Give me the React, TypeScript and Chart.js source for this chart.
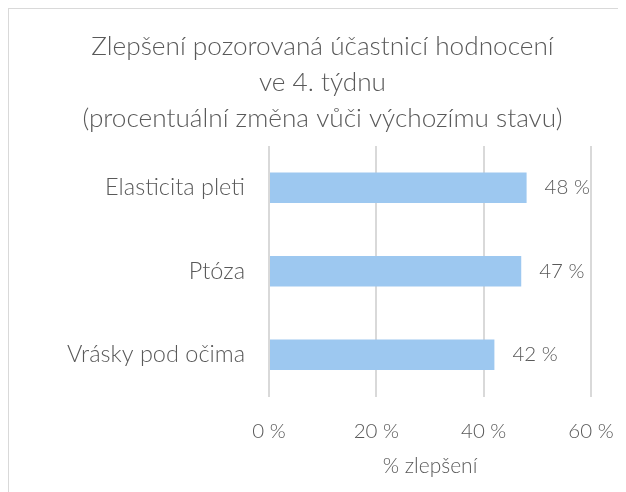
import React, { useEffect, useRef } from "react";
import { Chart, registerables } from "chart.js";

Chart.register(...registerables);

const titleLines = [
  "Zlepšení pozorovaná účastnicí hodnocení",
  "ve 4. týdnu",
  "(procentuální změna vůči výchozímu stavu)",
];
const categories = ["Elasticita pleti", "Ptóza", "Vrásky pod očima"];
const values = [48, 47, 42];
const xTicksMin = 0;
const xTicksMax = 60;
const xTicksStep = 20;
const xAxisTitle = "% zlepšení";

const FONT = "Lato, 'Open Sans', sans-serif";
const TEXT = "#595959";

const valueLabels = {
  id: "valueLabels",
  afterDatasetsDraw(chart: any) {
    const ctx = chart.ctx;
    const meta = chart.getDatasetMeta(0);
    ctx.save();
    ctx.font = `300 20.5px ${FONT}`;
    ctx.fillStyle = TEXT;
    ctx.textAlign = "left";
    ctx.textBaseline = "middle";
    meta.data.forEach((bar: any, i: number) => {
      const v = chart.data.datasets[0].data[i];
      ctx.fillText(`${v} %`, bar.x + 18, bar.y);
    });
    ctx.restore();
  },
};

export default function App() {
  const ref = useRef<HTMLCanvasElement | null>(null);
  useEffect(() => {
    if (!ref.current) return;
    const chart = new Chart(ref.current, {
      type: "bar",
      data: {
        labels: categories,
        datasets: [
          {
            data: values,
            backgroundColor: "#9dc8f0",
            borderWidth: 0,
            barPercentage: 0.364,
            categoryPercentage: 1,
          },
        ],
      },
      options: {
        indexAxis: "y",
        animation: false,
        responsive: true,
        maintainAspectRatio: false,
        layout: { padding: { left: 10, right: 0, top: 0, bottom: 0 } },
        plugins: {
          legend: { display: false },
          tooltip: { enabled: false },
          title: {
            display: true,
            text: titleLines,
            color: TEXT,
            font: { family: FONT, size: 26.2, weight: "300", lineHeight: 1.374 },
            padding: { top: 20, bottom: 9 },
          },
        },
        scales: {
          x: {
            min: xTicksMin,
            max: xTicksMax,
            ticks: {
              stepSize: xTicksStep,
              color: TEXT,
              font: { family: FONT, size: 20.5, weight: "300" },
              padding: 23,
              maxRotation: 0,
              callback: (v: any) => `${v} %`,
            },
            grid: { color: "#d9d9d9", lineWidth: 2, drawTicks: false },
            border: { display: false },
            title: {
              display: true,
              text: xAxisTitle,
              color: TEXT,
              font: { family: FONT, size: 21, weight: "300" },
              padding: { top: 10, bottom: 13 },
            },
            afterFit: (scale: any) => {
              scale.height = 95.5;
              scale.paddingLeft = 0;
              scale.paddingRight = 35;
            },
          },
          y: {
            grid: { display: false, drawTicks: false },
            border: { display: false },
            ticks: {
              color: TEXT,
              font: { family: FONT, size: 23.5, weight: "300" },
              padding: 24,
            },
            afterFit: (scale: any) => {
              scale.width = 250;
              scale.paddingTop = 0;
              scale.paddingBottom = 0;
            },
          },
        },
      },
      plugins: [valueLabels],
    });
    return () => chart.destroy();
  }, []);

  return (
    <div
      style={{
        width: 618,
        height: 484,
        boxSizing: "border-box",
        borderTop: "1px solid #d9d9d9",
        borderLeft: "1px solid #d9d9d9",
        overflow: "hidden",
      }}
    >
      <div style={{ position: "relative", width: 617, height: 483 }}>
        <canvas ref={ref} />
      </div>
    </div>
  );
}
